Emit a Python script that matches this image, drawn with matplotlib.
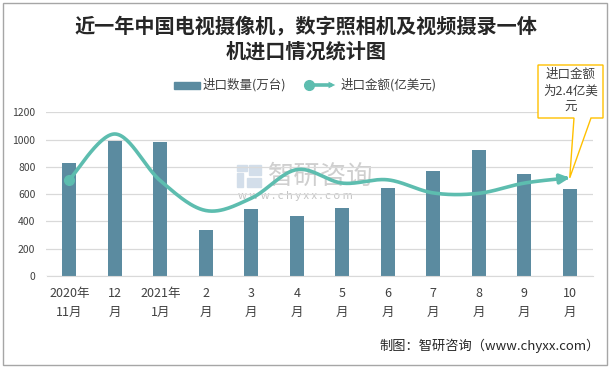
import numpy as np
import matplotlib
matplotlib.use("Agg")
import matplotlib.pyplot as plt
from matplotlib.patches import Rectangle, Polygon, FancyArrowPatch
from matplotlib.lines import Line2D

plt.rcParams['font.family'] = ['Noto Sans CJK SC', 'DejaVu Sans']

# 数据
months = ['2020年\n11月', '12\n月', '2021年\n1月', '2\n月', '3\n月', '4\n月',
          '5\n月', '6\n月', '7\n月', '8\n月', '9\n月', '10\n月']
qty = [830, 990, 985, 337, 492, 440, 498, 645, 770, 924, 748, 638]          # 进口数量(万台)
amount = [2.35, 3.47, 2.33, 1.60, 1.90, 2.60, 2.27, 2.35, 2.03, 2.02, 2.27, 2.40]  # 进口金额(亿美元)

bar_color = '#5B8BA0'
line_color = '#5DBDAF'
text_color = '#404040'

W, H = 612, 368
fig = plt.figure(figsize=(W / 100, H / 100), dpi=100)

def fx(px):
    return px / W

def fy(py):
    return 1 - py / H

ax = fig.add_axes([fx(46.5), fy(276), fx(592.5) - fx(46.5), fy(112.3) - fy(276)])
ax.patch.set_visible(False)
x = np.arange(len(months))
ax.bar(x, qty, width=0.31, color=bar_color, zorder=2)
ax.set_xlim(-0.5, len(months) - 0.5)
ax.set_ylim(0, 1200)
ax.set_yticks(range(0, 1201, 200))
ax.set_xticks(x)
ax.set_xticklabels(months, fontsize=9, color=text_color, linespacing=1.55)
ax.tick_params(axis='y', labelsize=7.5, labelcolor=text_color, length=0, pad=8)
ax.tick_params(axis='x', length=0, pad=8)
ax.grid(axis='y', color='#D9D9D9', linewidth=0.9, zorder=0)
ax.set_axisbelow(True)
for s in ['top', 'right', 'left']:
    ax.spines[s].set_visible(False)
ax.spines['bottom'].set_color('#D9D9D9')

# 平滑曲线 (Catmull-Rom, 类似 Excel 平滑线)
def smooth(xs, ys, n=30):
    xs = np.asarray(xs, float)
    ys = np.asarray(ys, float)
    px = np.concatenate([[xs[0]], xs, [xs[-1]]])
    py = np.concatenate([[ys[0]], ys, [ys[-1]]])
    ox, oy = [], []
    for i in range(1, len(px) - 2):
        t = np.linspace(0, 1, n, endpoint=False)
        p0, p1, p2, p3 = [np.array([px[j], py[j]]) for j in range(i - 1, i + 3)]
        c1 = p1 + (p2 - p0) / 6
        c2 = p2 - (p3 - p1) / 6
        pts = ((1 - t)[:, None] ** 3 * p1 + 3 * ((1 - t) ** 2 * t)[:, None] * c1
               + 3 * ((1 - t) * t ** 2)[:, None] * c2 + (t ** 3)[:, None] * p2)
        ox.extend(pts[:, 0])
        oy.extend(pts[:, 1])
    ox.append(xs[-1])
    oy.append(ys[-1])
    return np.array(ox), np.array(oy)

ax2 = ax.twinx()
ax2.set_ylim(0, 4)
ax2.axis('off')
sx, sy = smooth(x, amount)
ax2.plot(sx[:-4], sy[:-4], color=line_color, linewidth=2.6, solid_capstyle='round', zorder=4)
ax2.plot(x[0], amount[0], 'o', color=line_color, markersize=7, zorder=5)
ax2.annotate('', xy=(x[-1], amount[-1]), xytext=(sx[-6], sy[-6]),
             arrowprops=dict(arrowstyle='-|>', color=line_color, lw=2.6,
                             mutation_scale=14, shrinkA=0, shrinkB=0))

# 水印 (在图形下层)
for (lx, ly, lw_, lh) in [(237, 165, 10, 6), (237, 173, 6, 14), (249, 165, 12, 10), (247, 178, 14, 9)]:
    fig.patches.append(Rectangle((fx(lx), fy(ly + lh)), fx(lw_), lh / H, transform=fig.transFigure,
                                 color='#D3DEEA', zorder=-2))
fig.text(fx(268), fy(176), '智研咨询', fontsize=19, color='#CFCFCF', ha='left', va='center',
         zorder=-1)
fig.text(fx(238), fy(196), 'w w w . c h y x x . c o m', fontsize=8, color='#C4C4C4',
         ha='left', va='center', zorder=-1)

# 标题
fig.text(0.5, fy(38), '近一年中国电视摄像机，数字照相机及视频摄录一体\n机进口情况统计图',
         ha='center', va='center', fontsize=14.5, fontweight='bold', color='#262626',
         linespacing=1.25)

# 图例
fig.patches.append(Rectangle((fx(174), fy(89)), fx(200) - fx(174), fy(82) - fy(89),
                             transform=fig.transFigure, color=bar_color))
fig.text(fx(203), fy(85), '进口数量(万台)', fontsize=9, color=text_color, va='center')
fig.lines.append(Line2D([fx(309), fx(330)], [fy(85), fy(85)], transform=fig.transFigure,
                        color=line_color, linewidth=2.6, marker=None))
fig.lines.append(Line2D([fx(309)], [fy(85)], transform=fig.transFigure, color=line_color,
                        marker='o', markersize=7))
fig.patches.append(FancyArrowPatch((fx(325), fy(85)), (fx(338), fy(85)),
                                   transform=fig.transFigure, arrowstyle='-|>',
                                   color=line_color, mutation_scale=12, lw=0))
fig.text(fx(341), fy(85), '进口金额(亿美元)', fontsize=9, color=text_color, va='center')

# 标注框
fig.canvas.draw()
tip = fig.transFigure.inverted().transform(ax2.transData.transform((x[-1], amount[-1])))
callout = Polygon([(fx(538), fy(65)), (fx(603), fy(65)), (fx(603), fy(118)), (fx(591), fy(118)),
                   tuple(tip), (fx(574), fy(118)), (fx(538), fy(118))], closed=True,
                  transform=fig.transFigure, facecolor='white', edgecolor='#FFC000', lw=1.0,
                  zorder=10)
fig.patches.append(callout)
fig.text(fx(570.5), fy(91), '进口金额\n为2.4亿美\n元', ha='center', va='center', fontsize=9,
         color=text_color, linespacing=1.35, zorder=11)

# 来源
fig.text(fx(600), fy(346), '制图：智研咨询（www.chyxx.com）', ha='right', va='center',
         fontsize=9.5, color='#262626')

# 外框
fig.patches.append(Rectangle((fx(2.5), fy(364.5)), fx(607) - fx(2.5), fy(2.5) - fy(364.5),
                             transform=fig.transFigure, fill=False, edgecolor='#A6A6A6', lw=1))

fig.savefig('out.png', dpi=100)
